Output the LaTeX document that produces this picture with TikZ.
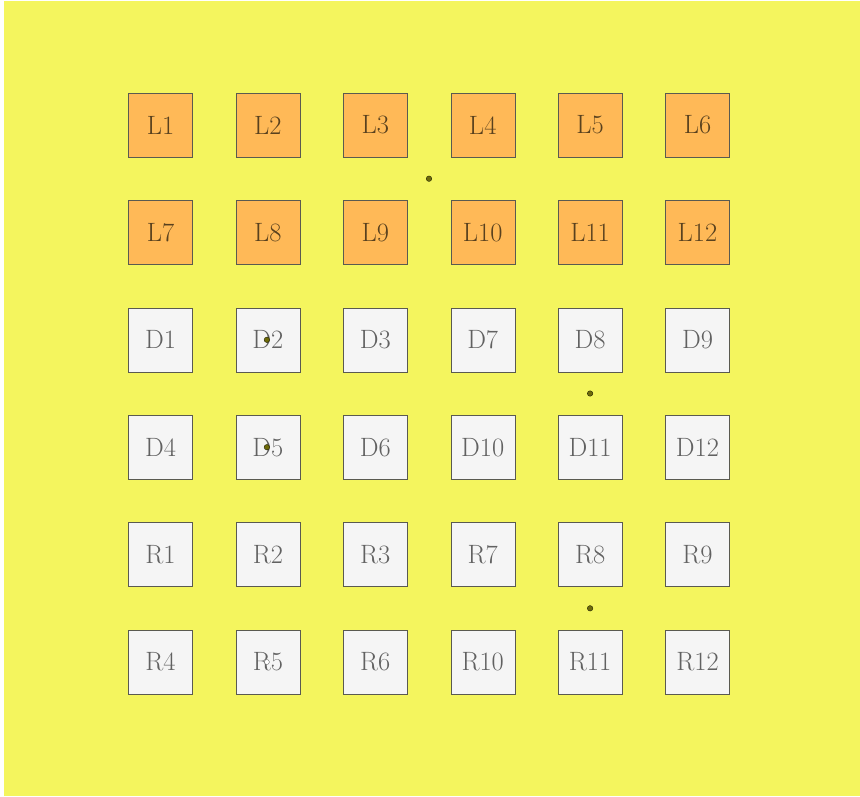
\documentclass[tikz,border=0pt]{standalone}
\usepackage{xcolor}
\usetikzlibrary{positioning,calc}

\definecolor{board}{HTML}{F4F55E}
\definecolor{tileL}{HTML}{FFB957}
\definecolor{tileW}{HTML}{F5F5F5}
\definecolor{edge}{HTML}{5A5A50}
\definecolor{pin}{HTML}{6E6B0A}

\begin{document}
\begin{tikzpicture}[
  x=1pt, y=1pt,
  node distance=43pt and 43pt,
  tile/.style={draw=edge, minimum size=64pt, inner sep=0pt,
               font=\fontsize{26.5}{30}\selectfont, text=black!62, fill=tileW},
  ltile/.style={tile, fill=tileL, text=black!65!tileL},
  pinmark/.style={circle, fill=pin, draw=black!70!pin, inner sep=0pt, minimum size=5.5pt},
  hole/.style={circle, fill=white, draw=black!60, inner sep=0pt, minimum size=5pt}
]
% board
\fill[white] (-160.5,125) rectangle (699.5,-671);
\fill[board] (-156.5,124) rectangle (699.5,-671);
\useasboundingbox (-160.5,125) rectangle (699.5,-671);
% row 1
\node[ltile]                (l1)  {L1};
\node[ltile, right=of l1]   (l2)  {L2};
\node[ltile, right=of l2]   (l3)  {L3};
\node[ltile, right=of l3]   (l4)  {L4};
\node[ltile, right=of l4]   (l5)  {L5};
\node[ltile, right=of l5]   (l6)  {L6};
% row 2
\node[ltile, below=of l1]   (l7)  {L7};
\node[ltile, right=of l7]   (l8)  {L8};
\node[ltile, right=of l8]   (l9)  {L9};
\node[ltile, right=of l9]   (l10) {L10};
\node[ltile, right=of l10]  (l11) {L11};
\node[ltile, right=of l11]  (l12) {L12};
% row 3
\node[tile, below=of l7]    (d1)  {D1};
\node[tile, right=of d1]    (d2)  {D2};
\node[tile, right=of d2]    (d3)  {D3};
\node[tile, right=of d3]    (d7)  {D7};
\node[tile, right=of d7]    (d8)  {D8};
\node[tile, right=of d8]    (d9)  {D9};
% row 4
\node[tile, below=of d1]    (d4)  {D4};
\node[tile, right=of d4]    (d5)  {D5};
\node[tile, right=of d5]    (d6)  {D6};
\node[tile, right=of d6]    (d10) {D10};
\node[tile, right=of d10]   (d11) {D11};
\node[tile, right=of d11]   (d12) {D12};
% row 5
\node[tile, below=of d4]    (r1)  {R1};
\node[tile, right=of r1]    (r2)  {R2};
\node[tile, right=of r2]    (r3)  {R3};
\node[tile, right=of r3]    (r7)  {R7};
\node[tile, right=of r7]    (r8)  {R8};
\node[tile, right=of r8]    (r9)  {R9};
% row 6
\node[tile, below=of r1]    (r4)  {R4};
\node[tile, right=of r4]    (r5)  {R5};
\node[tile, right=of r5]    (r6)  {R6};
\node[tile, right=of r6]    (r10) {R10};
\node[tile, right=of r10]   (r11) {R11};
\node[tile, right=of r11]   (r12) {R12};
% pins
\node[pinmark] (p1) at ($(l3)!0.5!(l10)$) {};
\node[pinmark] (p2) at ($(d8)!0.5!(d11)$) {};
\node[pinmark] (p3) at ($(r8)!0.5!(r11)$) {};
\node[pinmark] (p4) at ([xshift=-1pt]d2.center) {};
\node[pinmark] (p5) at ([xshift=-1pt]d5.center) {};
\node[hole]    (p6) at ([xshift=-1pt]r5.center) {};
\end{tikzpicture}
\end{document}
